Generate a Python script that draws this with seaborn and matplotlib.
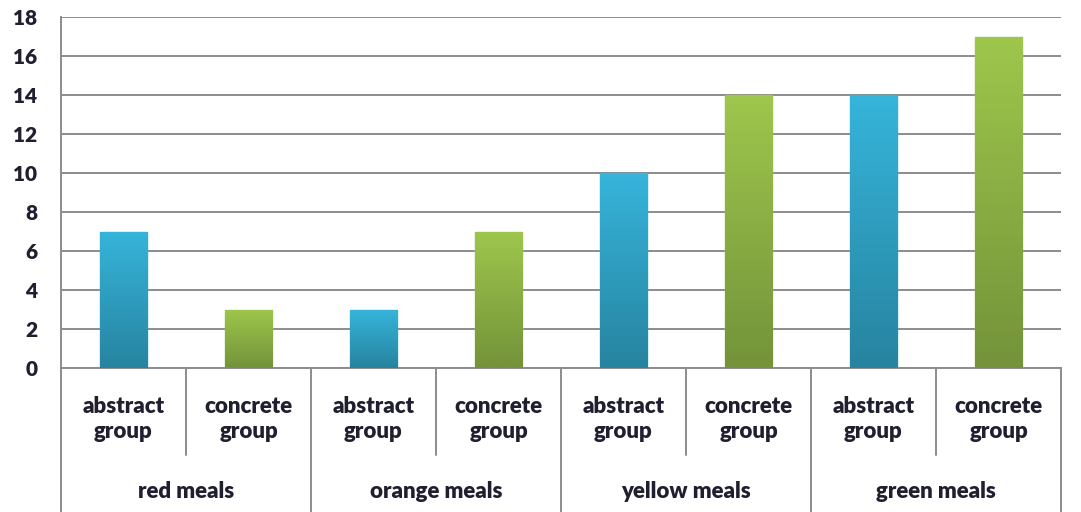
import numpy as np
import pandas as pd
import matplotlib
matplotlib.use("Agg")
import matplotlib.pyplot as plt
import matplotlib.transforms as mtransforms
from matplotlib.colors import LinearSegmentedColormap
import seaborn as sns

# data
meals = ["red meals", "orange meals", "yellow meals", "green meals"]
groups = ["abstract group", "concrete group"]
abstract_vals = [7, 3, 10, 14]
concrete_vals = [3, 7, 14, 17]
y_ticks = [0, 2, 4, 6, 8, 10, 12, 14, 16, 18]

rows = []
for i, m in enumerate(meals):
    rows.append({"meal": m, "group": groups[0], "slot": "%d_a" % i, "value": abstract_vals[i]})
    rows.append({"meal": m, "group": groups[1], "slot": "%d_c" % i, "value": concrete_vals[i]})
df = pd.DataFrame(rows)

sns.set_style("white")
plt.rcParams['font.family'] = ['Lato', 'DejaVu Sans']

# (bottom, top) colours of the bar gradients
grad = {groups[0]: ("#2784a0", "#36b4da"), groups[1]: ("#74933a", "#9ec64c")}
pal = {g: grad[g][1] for g in groups}
txt_col = "#1f1f2f"

fig = plt.figure(figsize=(10.81, 5.12), dpi=100)
ax = fig.add_axes([61 / 1081, 1 - 368 / 512, 1000 / 1081, 351 / 512])

sns.barplot(data=df, x="slot", y="value", hue="group", dodge=False,
            palette=pal, width=0.38, legend=False, ax=ax, zorder=3)

# gradient fill on each bar (group from slot position: even = abstract)
for bar in ax.patches:
    h = bar.get_height()
    if not h or h <= 0:
        continue
    x0 = bar.get_x()
    w = bar.get_width()
    k = int(round(x0 + w / 2))
    g = groups[k % 2]
    cmap = LinearSegmentedColormap.from_list("g", list(grad[g]))
    im = ax.imshow(np.linspace(0, 1, 64).reshape(-1, 1), cmap=cmap, origin="lower",
                   extent=[x0, x0 + w, 0, h], aspect="auto", zorder=4)
    im.set_clip_path(bar)
    bar.set_facecolor(grad[g][1])
    bar.set_edgecolor(grad[g][1])
    bar.set_linewidth(1.0)
ax.set_xlim(-0.5, 7.5)
ax.set_ylim(0, 18)

# grid + axes
ax.set_yticks(y_ticks)
ax.yaxis.grid(True, color="#8c8c8c", linewidth=1.4, zorder=0)
ax.set_axisbelow(True)
for s in ["top", "right"]:
    ax.spines[s].set_visible(False)
for s in ["left", "bottom"]:
    ax.spines[s].set_color("#8c8c8c")
    ax.spines[s].set_linewidth(1.4)
ax.tick_params(axis="y", length=8, width=1.4, color="#8c8c8c", pad=9,
               labelsize=15, labelcolor=txt_col)
for t in ax.get_yticklabels():
    t.set_fontweight("heavy")
ax.set_xticks([])
ax.set_xlabel("")
ax.set_ylabel("")

# two-level category axis
trans = mtransforms.blended_transform_factory(ax.transData, ax.transAxes)
for k in range(8):
    ax.text(k, -0.146, "abstract\ngroup" if k % 2 == 0 else "concrete\ngroup",
            transform=trans, ha="center", va="center", fontsize=16,
            fontweight="heavy", color=txt_col, linespacing=1.25)
for k in [0.5, 2.5, 4.5, 6.5]:
    ax.plot([k, k], [0, -0.248], transform=trans, color="#8c8c8c", lw=1.4, clip_on=False)
for k in [-0.5, 1.5, 3.5, 5.5, 7.5]:
    ax.plot([k, k], [0, -0.42], transform=trans, color="#8c8c8c", lw=1.4, clip_on=False)
for i, m in enumerate(meals):
    ax.text(2 * i + 0.5, -0.352, m, transform=trans, ha="center", va="center",
            fontsize=16, fontweight="heavy", color=txt_col)

fig.savefig("out.png", dpi=100)
